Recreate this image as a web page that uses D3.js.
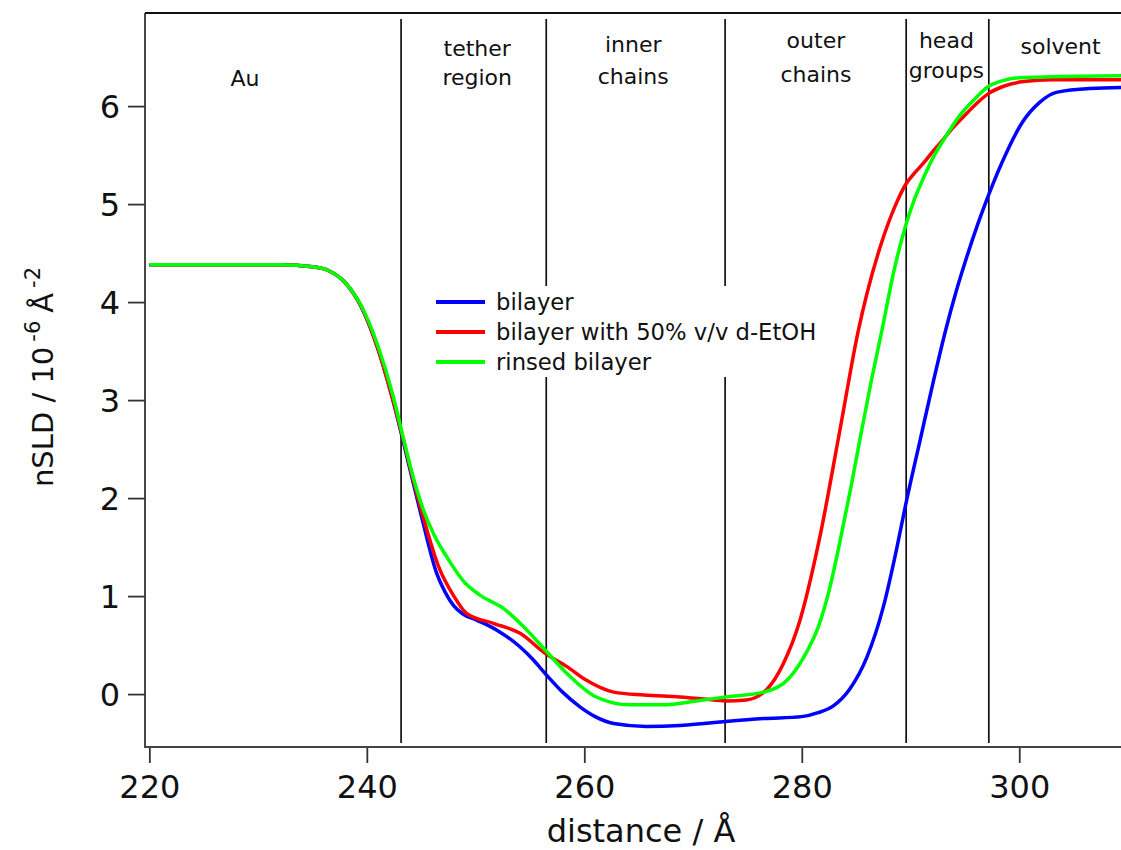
<!DOCTYPE html>
<html>
<head>
<meta charset="utf-8">
<script src="https://cdn.jsdelivr.net/npm/d3@7"></script>
<style>
  html, body { margin: 0; padding: 0; background: #fff; }
  svg { display: block; font-family: "DejaVu Sans", Verdana, sans-serif; }
</style>
</head>
<body>
<svg id="chart" width="1121" height="850"></svg>
<script>
// nSLD profiles (10^-6 Å^-2) against distance (Å)
const bilayerDist = [220, 232, 235, 236.5, 238, 239.5, 241, 242.4, 243.3, 244.3, 245.1, 246.4, 247.2, 248.0, 248.8, 250.1, 252, 254.1, 255.3, 256.4, 258, 259.6, 261, 262.7, 265.7, 268.8, 271, 273, 276.5, 280, 281.5, 282.9, 284.4, 286, 287.5, 288.7, 289.55, 290.9, 292.1, 293.2, 294.2, 295.2, 296.2, 297.2, 298.8, 300.2, 301.9, 303.4, 306.5, 310];
const bilayerSLD  = [4.38, 4.38, 4.36, 4.32, 4.2, 3.95, 3.53, 3.0, 2.6, 2.14, 1.78, 1.24, 1.04, 0.9, 0.82, 0.755, 0.65, 0.48, 0.35, 0.21, 0.02, -0.13, -0.23, -0.30, -0.33, -0.32, -0.30, -0.28, -0.25, -0.23, -0.19, -0.12, 0.05, 0.38, 0.89, 1.47, 1.93, 2.6, 3.19, 3.7, 4.11, 4.47, 4.8, 5.1, 5.52, 5.82, 6.04, 6.14, 6.18, 6.19];

const ethanolDist = [220, 232, 235, 236.5, 238, 239.5, 241, 242.4, 243.3, 244.3, 245.2, 246.6, 248.0, 249.2, 251.7, 254.1, 256.4, 258.4, 260.2, 262.7, 265.5, 268.8, 271, 273, 274.9, 276.8, 278.3, 279.8, 281.6, 283.5, 285.2, 286, 287.2, 288.7, 289.55, 290.4, 291.2, 292.0, 292.7, 294, 295.2, 296.2, 297.2, 298.5, 300.4, 303, 310];
const ethanolSLD  = [4.38, 4.38, 4.36, 4.32, 4.2, 3.95, 3.53, 3.0, 2.62, 2.17, 1.8, 1.3, 1.0, 0.82, 0.72, 0.62, 0.415, 0.28, 0.14, 0.02, -0.01, -0.03, -0.05, -0.07, -0.06, 0.05, 0.31, 0.74, 1.57, 2.69, 3.71, 4.09, 4.56, 5.01, 5.2, 5.32, 5.42, 5.53, 5.62, 5.79, 5.93, 6.04, 6.13, 6.2, 6.25, 6.27, 6.27];

const rinsedDist = [220, 232, 235, 236.5, 238, 239.5, 241, 242.4, 243.3, 244.3, 245.2, 246.2, 247.35, 248.9, 250.4, 252.55, 254.4, 256.4, 258.4, 261.1, 264.2, 267.3, 270.3, 273, 276.5, 278.9, 280.45, 281.5, 282.5, 283.5, 284.5, 285.4, 286.4, 287.35, 288.5, 289.55, 290.4, 291.2, 292.2, 293.3, 294.5, 295.8, 297.15, 298.5, 300.05, 303, 310];
const rinsedSLD  = [4.38, 4.38, 4.36, 4.32, 4.2, 3.96, 3.56, 3.05, 2.64, 2.2, 1.88, 1.62, 1.40, 1.15, 1.01, 0.875, 0.69, 0.45, 0.21, -0.03, -0.11, -0.11, -0.07, -0.03, 0.02, 0.17, 0.43, 0.68, 1.05, 1.55, 2.1, 2.63, 3.2, 3.7, 4.33, 4.78, 5.06, 5.27, 5.5, 5.70, 5.9, 6.06, 6.2, 6.26, 6.29, 6.30, 6.31];

const seriesNames  = ["bilayer", "bilayer with 50% v/v d-EtOH", "rinsed bilayer"];
const seriesColors = ["#0000ff", "#ff0000", "#00ff00"];

// region boundaries (Å) and their labels
const boundaries = [243.15, 256.5, 272.95, 289.6, 297.2];
const regionLabels = [
  { text: ["Au"], at: 228.8, lift: [86] },
  { text: ["tether", "region"], at: 250.15, lift: [56, 85] },
  { text: ["inner", "chains"], at: 264.5, lift: [52, 84] },
  { text: ["outer", "chains"], at: 281.3, lift: [48, 82] },
  { text: ["head", "groups"], at: 293.3, lift: [48, 78] },
  { text: ["solvent"], at: 303.8, lift: [54] }
];

const xTicks = [220, 240, 260, 280, 300];
const yTicks = [0, 1, 2, 3, 4, 5, 6];

const svg = d3.select("#chart");
const plotLeft = 145, plotTop = 13, plotBottom = 747, plotRight = 1128;

const x = d3.scaleLinear().domain([219.6, 310]).range([plotLeft, plotRight]);
const y = d3.scaleLinear().domain([-0.54, 6.95]).range([plotBottom, plotTop]);

// frame
svg.append("line").attr("x1", plotLeft).attr("x2", 1121).attr("y1", plotTop).attr("y2", plotTop)
  .attr("stroke", "#111").attr("stroke-width", 2);

// region boundary lines
svg.append("g").selectAll("line").data(boundaries).join("line")
  .attr("x1", d => x(d)).attr("x2", d => x(d))
  .attr("y1", plotTop + 6).attr("y2", plotBottom - 4)
  .attr("stroke", "#111").attr("stroke-width", 1.7);

// region labels
const rl = svg.append("g").attr("font-size", 22).attr("fill", "#111").attr("text-anchor", "middle");
regionLabels.forEach(r => {
  r.text.forEach((t, i) => {
    rl.append("text").attr("x", x(r.at)).attr("y", r.lift[i]).text(t);
  });
});

// legend box (white, hides boundary lines behind it)
const lg = svg.append("g");
lg.append("rect").attr("x", 420).attr("y", 286).attr("width", 410).attr("height", 91).attr("fill", "#fff");

// profiles
const line = d3.line().curve(d3.curveMonotoneX).x(d => x(d[0])).y(d => y(d[1]));
const series = [
  d3.zip(bilayerDist, bilayerSLD),
  d3.zip(ethanolDist, ethanolSLD),
  d3.zip(rinsedDist, rinsedSLD)
];
svg.append("g").selectAll("path").data(series).join("path")
  .attr("d", line).attr("fill", "none")
  .attr("stroke", (d, i) => seriesColors[i]).attr("stroke-width", 3.5)
  .attr("stroke-linejoin", "round");

// legend entries
seriesNames.forEach((name, i) => {
  const yy = 302 + i * 30;
  lg.append("line").attr("x1", 436).attr("x2", 485).attr("y1", yy).attr("y2", yy)
    .attr("stroke", seriesColors[i]).attr("stroke-width", 4);
  lg.append("text").attr("x", 496).attr("y", yy + 8).attr("font-size", 22.7).attr("fill", "#111").text(name);
});

// axes
const yAxis = svg.append("g").attr("transform", `translate(${plotLeft},0)`)
  .call(d3.axisLeft(y).tickValues(yTicks).tickSize(17).tickPadding(8).tickFormat(d3.format("d")));
const xAxis = svg.append("g").attr("transform", `translate(0,${plotBottom})`)
  .call(d3.axisBottom(x).tickValues(xTicks).tickSize(16).tickPadding(12).tickFormat(d3.format("d")));
[yAxis, xAxis].forEach(a => {
  a.select(".domain").remove();
  a.selectAll(".tick line").attr("stroke", "#333").attr("stroke-width", 1.8);
  a.selectAll(".tick text").attr("font-size", 32).attr("fill", "#111")
    .attr("font-family", "'DejaVu Sans', Verdana, sans-serif");
});
yAxis.selectAll(".tick text").attr("dy", "0.36em");
xAxis.selectAll(".tick text").attr("dy", "0.72em");
svg.append("line").attr("x1", plotLeft).attr("x2", plotLeft).attr("y1", plotTop).attr("y2", plotBottom + 1)
  .attr("stroke", "#333").attr("stroke-width", 1.8);
svg.append("line").attr("x1", plotLeft).attr("x2", 1121).attr("y1", plotBottom).attr("y2", plotBottom)
  .attr("stroke", "#444").attr("stroke-width", 1.8);

// axis titles
svg.append("text").attr("x", 641).attr("y", 842).attr("text-anchor", "middle")
  .attr("font-size", 32).attr("fill", "#111").text("distance / Å");

const yt = svg.append("text").attr("transform", "translate(53,377) rotate(-90)")
  .attr("text-anchor", "middle").attr("font-size", 29).attr("fill", "#111");
yt.append("tspan").text("nSLD / 10");
yt.append("tspan").attr("font-size", 21).attr("dx", 5).attr("dy", -13).text("-6");
yt.append("tspan").attr("dx", 8).attr("dy", 13).text("Å");
yt.append("tspan").attr("font-size", 21).attr("dx", 5).attr("dy", -13).text("-2");
</script>
</body>
</html>
